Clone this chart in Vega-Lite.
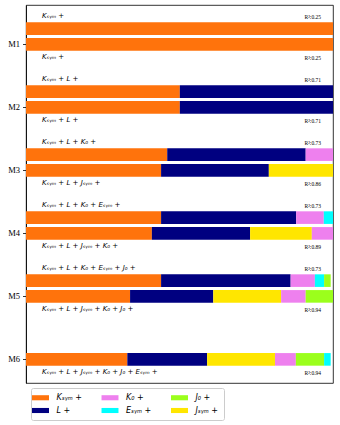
{
  "$schema": "https://vega.github.io/schema/vega-lite/v6.json",
  "width": 307,
  "height": 378,
  "autosize": "none",
  "padding": {"left": 26, "top": 5, "right": 7, "bottom": 42},
  "background": "white",
  "config": {
    "view": {"stroke": "black", "strokeWidth": 0.8},
    "axis": {"grid": false}
  },
  "datasets": {
    "bars": [
      {"slot": "M1u", "term": "Kₛᵧₘ +", "order": 1, "share": 1.0},
      {"slot": "M1", "term": "Kₛᵧₘ +", "order": 1, "share": 1.0},
      {"slot": "M2u", "term": "Kₛᵧₘ +", "order": 1, "share": 0.501},
      {"slot": "M2u", "term": "L +", "order": 2, "share": 0.499},
      {"slot": "M2", "term": "Kₛᵧₘ +", "order": 1, "share": 0.501},
      {"slot": "M2", "term": "L +", "order": 2, "share": 0.499},
      {"slot": "M3u", "term": "Kₛᵧₘ +", "order": 1, "share": 0.460},
      {"slot": "M3u", "term": "L +", "order": 2, "share": 0.451},
      {"slot": "M3u", "term": "K₀ +", "order": 3, "share": 0.089},
      {"slot": "M3", "term": "Kₛᵧₘ +", "order": 1, "share": 0.440},
      {"slot": "M3", "term": "L +", "order": 2, "share": 0.351},
      {"slot": "M3", "term": "Jₛᵧₘ +", "order": 3, "share": 0.209},
      {"slot": "M4u", "term": "Kₛᵧₘ +", "order": 1, "share": 0.440},
      {"slot": "M4u", "term": "L +", "order": 2, "share": 0.440},
      {"slot": "M4u", "term": "K₀ +", "order": 3, "share": 0.090},
      {"slot": "M4u", "term": "Eₛᵧₘ +", "order": 4, "share": 0.030},
      {"slot": "M4", "term": "Kₛᵧₘ +", "order": 1, "share": 0.410},
      {"slot": "M4", "term": "L +", "order": 2, "share": 0.320},
      {"slot": "M4", "term": "Jₛᵧₘ +", "order": 3, "share": 0.201},
      {"slot": "M4", "term": "K₀ +", "order": 4, "share": 0.069},
      {"slot": "M5u", "term": "Kₛᵧₘ +", "order": 1, "share": 0.440},
      {"slot": "M5u", "term": "L +", "order": 2, "share": 0.422},
      {"slot": "M5u", "term": "K₀ +", "order": 3, "share": 0.079},
      {"slot": "M5u", "term": "Eₛᵧₘ +", "order": 4, "share": 0.030},
      {"slot": "M5u", "term": "J₀ +", "order": 5, "share": 0.0215},
      {"slot": "M5", "term": "Kₛᵧₘ +", "order": 1, "share": 0.339},
      {"slot": "M5", "term": "L +", "order": 2, "share": 0.271},
      {"slot": "M5", "term": "Jₛᵧₘ +", "order": 3, "share": 0.221},
      {"slot": "M5", "term": "K₀ +", "order": 4, "share": 0.080},
      {"slot": "M5", "term": "J₀ +", "order": 5, "share": 0.089},
      {"slot": "M6", "term": "Kₛᵧₘ +", "order": 1, "share": 0.330},
      {"slot": "M6", "term": "L +", "order": 2, "share": 0.260},
      {"slot": "M6", "term": "Jₛᵧₘ +", "order": 3, "share": 0.221},
      {"slot": "M6", "term": "K₀ +", "order": 4, "share": 0.068},
      {"slot": "M6", "term": "J₀ +", "order": 5, "share": 0.092},
      {"slot": "M6", "term": "Eₛᵧₘ +", "order": 6, "share": 0.0215}
    ],
    "labels": [
      {"slot": "M1u", "side": "above", "formula": "Kₛᵧₘ +", "r2": "R²:0.25"},
      {"slot": "M1", "side": "below", "formula": "Kₛᵧₘ +", "r2": "R²:0.25"},
      {"slot": "M2u", "side": "above", "formula": "Kₛᵧₘ + L +", "r2": "R²:0.71"},
      {"slot": "M2", "side": "below", "formula": "Kₛᵧₘ + L +", "r2": "R²:0.71"},
      {"slot": "M3u", "side": "above", "formula": "Kₛᵧₘ + L + K₀ +", "r2": "R²:0.73"},
      {"slot": "M3", "side": "below", "formula": "Kₛᵧₘ + L + Jₛᵧₘ +", "r2": "R²:0.86"},
      {"slot": "M4u", "side": "above", "formula": "Kₛᵧₘ + L + K₀ + Eₛᵧₘ +", "r2": "R²:0.73"},
      {"slot": "M4", "side": "below", "formula": "Kₛᵧₘ + L + Jₛᵧₘ + K₀ +", "r2": "R²:0.89"},
      {"slot": "M5u", "side": "above", "formula": "Kₛᵧₘ + L + K₀ + Eₛᵧₘ + J₀ +", "r2": "R²:0.73"},
      {"slot": "M5", "side": "below", "formula": "Kₛᵧₘ + L + Jₛᵧₘ + K₀ + J₀ +", "r2": "R²:0.94"},
      {"slot": "M6", "side": "below", "formula": "Kₛᵧₘ + L + Jₛᵧₘ + K₀ + J₀ + Eₛᵧₘ +", "r2": "R²:0.94"}
    ]
  },
  "encoding": {
    "y": {
      "field": "slot",
      "type": "nominal",
      "scale": {
        "domain": ["M1a","M1u","M1","M1b","M2a","M2u","M2","M2b","M3a","M3u","M3","M3b","M4a","M4u","M4","M4b","M5a","M5u","M5","M5b","M6a","M6u","M6","M6b"],
        "paddingInner": 0,
        "paddingOuter": 0
      },
      "axis": {
        "title": null,
        "values": ["M1","M2","M3","M4","M5","M6"],
        "labelFont": "Liberation Serif",
        "labelFontSize": 8.5,
        "labelColor": "black",
        "labelPadding": 3,
        "tickColor": "black",
        "tickSize": 3.5,
        "tickWidth": 0.8,
        "domainColor": "black",
        "domainWidth": 0.8
      }
    }
  },
  "layer": [
    {
      "data": {"name": "bars"},
      "mark": {"type": "bar", "height": {"band": 0.8}},
      "encoding": {
        "x": {"field": "share", "type": "quantitative", "stack": "zero", "scale": {"domain": [0, 1], "nice": false, "zero": true}, "axis": null},
        "order": {"field": "order", "type": "quantitative"},
        "color": {
          "field": "term",
          "type": "nominal",
          "scale": {
            "domain": ["Kₛᵧₘ +", "K₀ +", "J₀ +", "L +", "Eₛᵧₘ +", "Jₛᵧₘ +"],
            "range": ["#ff730c", "#ee80ee", "#9bff1c", "#000080", "#00ffff", "#ffe600"]
          },
          "legend": {
            "title": null,
            "orient": "none",
            "legendX": 5,
            "legendY": 383,
            "columns": 3,
            "direction": "horizontal",
            "symbolType": "M-2,-0.6H2V0.6H-2Z",
            "symbolSize": 72,
            "symbolStrokeWidth": 0,
            "symbolOpacity": 1,
            "labelFont": "DejaVu Sans",
            "labelFontStyle": "italic",
            "labelFontSize": 8,
            "labelColor": "black",
            "labelOffset": 11.5,
            "columnPadding": 19.5,
            "rowPadding": 4,
            "padding": 5,
            "strokeColor": "#cccccc",
            "fillColor": "white",
            "cornerRadius": 2
          }
        }
      }
    },
    {
      "data": {"name": "labels"},
      "transform": [{"filter": "datum.side == 'above'"}],
      "mark": {"type": "text", "align": "left", "baseline": "middle", "dy": -12.5, "font": "DejaVu Sans", "fontStyle": "italic", "fontSize": 7, "color": "black"},
      "encoding": {"x": {"datum": 0.052}, "text": {"field": "formula"}}
    },
    {
      "data": {"name": "labels"},
      "transform": [{"filter": "datum.side == 'below'"}],
      "mark": {"type": "text", "align": "left", "baseline": "middle", "dy": 13, "font": "DejaVu Sans", "fontStyle": "italic", "fontSize": 7, "color": "black"},
      "encoding": {"x": {"datum": 0.052}, "text": {"field": "formula"}}
    },
    {
      "data": {"name": "labels"},
      "transform": [{"filter": "datum.side == 'above'"}],
      "mark": {"type": "text", "align": "right", "baseline": "middle", "dy": -11.5, "font": "Liberation Serif", "fontSize": 5.5, "color": "black"},
      "encoding": {"x": {"datum": 0.961}, "text": {"field": "r2"}}
    },
    {
      "data": {"name": "labels"},
      "transform": [{"filter": "datum.side == 'below'"}],
      "mark": {"type": "text", "align": "right", "baseline": "middle", "dy": 14, "font": "Liberation Serif", "fontSize": 5.5, "color": "black"},
      "encoding": {"x": {"datum": 0.961}, "text": {"field": "r2"}}
    }
  ]
}
